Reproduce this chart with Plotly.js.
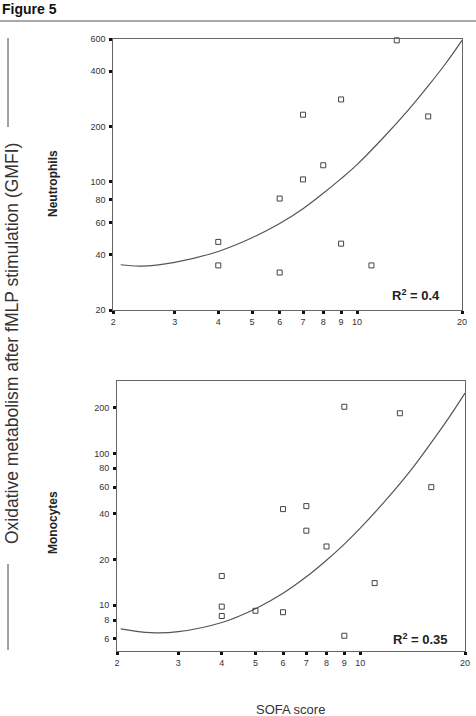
<!DOCTYPE html>
<html>
<head>
<meta charset="utf-8">
<script src="https://cdn.plot.ly/plotly-3.0.1.min.js"></script>
<style>html,body{margin:0;padding:0;background:#fff;}#chart{width:476px;height:716px;}</style>
</head>
<body>
<div id="chart"></div>
<script>
// Neutrophils panel
var neutroSofa = [4, 4, 6, 6, 7, 7, 8, 9, 9, 11, 13, 16];
var neutroGMFI = [47, 35, 81, 32, 232, 103, 123, 281, 46, 35, 590, 227];
var neutroFitSofa = [2.1, 2.4, 3, 4, 5, 6, 7, 8, 9, 10, 12, 14, 16, 18, 20];
var neutroFitGMFI = [35.3, 34.7, 36.4, 41.7, 49.5, 59.2, 71.3, 86.5, 104, 124, 177, 245, 333, 444, 590];

// Monocytes panel
var monoSofa = [4, 4, 4, 5, 6, 6, 7, 7, 8, 9, 9, 11, 13, 16];
var monoGMFI = [15.6, 9.8, 8.5, 9.2, 43, 9.0, 45, 31, 24.4, 203, 6.3, 14, 184, 60];
var monoFitSofa = [2.05, 2.5, 3, 4, 5, 6, 7, 8, 9, 10, 12, 14, 16, 18, 20];
var monoFitGMFI = [7.0, 6.6, 6.7, 7.7, 9.5, 12.0, 15.4, 19.8, 25.3, 32.2, 51, 78, 118, 173, 250];

// Tick labels
var xTicks = [2, 3, 4, 5, 6, 7, 8, 9, 10, 20];
var neutroYTicks = [20, 40, 60, 80, 100, 200, 400, 600];
var monoYTicks = [6, 8, 10, 20, 40, 60, 80, 100, 200];

var markerStyle = {symbol: 'square-open', size: 5, color: '#444', line: {width: 1, color: '#444'}};
var lineStyle = {color: '#555', width: 1.2, shape: 'spline', smoothing: 1};

var traces = [
  {x: neutroFitSofa, y: neutroFitGMFI, mode: 'lines', line: lineStyle, xaxis: 'x', yaxis: 'y', hoverinfo: 'skip'},
  {x: neutroSofa, y: neutroGMFI, mode: 'markers', marker: markerStyle, xaxis: 'x', yaxis: 'y', cliponaxis: false},
  {x: monoFitSofa, y: monoFitGMFI, mode: 'lines', line: lineStyle, xaxis: 'x2', yaxis: 'y2', hoverinfo: 'skip'},
  {x: monoSofa, y: monoGMFI, mode: 'markers', marker: markerStyle, xaxis: 'x2', yaxis: 'y2', cliponaxis: false}
];

var tickFont = {family: 'Liberation Sans, Arial, sans-serif', size: 9, color: '#333'};
function axisBase(extra) {
  var a = {
    type: 'log', showgrid: false, zeroline: false,
    showline: true, linecolor: '#666', linewidth: 1, mirror: true,
    ticks: 'outside', ticklen: 3, tickwidth: 3, tickcolor: '#111',
    tickfont: tickFont, tickmode: 'array', fixedrange: true
  };
  for (var k in extra) a[k] = extra[k];
  return a;
}

var W = 476, H = 716;
function px(x) { return x / W; }
function py(y) { return 1 - y / H; }

var layout = {
  width: W, height: H,
  margin: {l: 0, r: 0, t: 0, b: 0},
  paper_bgcolor: '#fff', plot_bgcolor: '#fff',
  showlegend: false,
  font: {family: 'Liberation Sans, Arial, sans-serif', color: '#222'},
  xaxis: axisBase({domain: [px(113.3), px(462)], anchor: 'y',
    range: [Math.log10(2), Math.log10(20)], tickvals: xTicks, ticktext: xTicks.map(String)}),
  yaxis: axisBase({domain: [py(310), py(39)], anchor: 'x',
    range: [Math.log10(20), Math.log10(600)], tickvals: neutroYTicks, ticktext: neutroYTicks.map(String), ticklabelstandoff: 2}),
  xaxis2: axisBase({domain: [px(117), px(465)], anchor: 'y2',
    range: [Math.log10(2), Math.log10(20)], tickvals: xTicks, ticktext: xTicks.map(String)}),
  yaxis2: axisBase({domain: [py(651), py(381)], anchor: 'x2',
    range: [Math.log10(5), Math.log10(300)], tickvals: monoYTicks, ticktext: monoYTicks.map(String), ticklabelstandoff: 2}),
  annotations: [
    {text: '<b>Figure 5</b>', xref: 'paper', yref: 'paper', x: 0, y: py(9), xanchor: 'left', yanchor: 'middle',
      showarrow: false, font: {size: 14, color: '#111'}},
    {text: 'Oxidative metabolism after fMLP stimulation (GMFI)', xref: 'paper', yref: 'paper',
      x: px(12), y: py(344), xanchor: 'center', yanchor: 'middle', textangle: -90,
      showarrow: false, font: {size: 17.5, color: '#333'}},
    {text: '<b>Neutrophils</b>', xref: 'paper', yref: 'paper', x: px(53), y: py(184),
      xanchor: 'center', yanchor: 'middle', textangle: -90, showarrow: false, font: {size: 12, color: '#222'}},
    {text: '<b>Monocytes</b>', xref: 'paper', yref: 'paper', x: px(53), y: py(523),
      xanchor: 'center', yanchor: 'middle', textangle: -90, showarrow: false, font: {size: 12, color: '#222'}},
    {text: 'SOFA score', xref: 'paper', yref: 'paper', x: px(290), y: py(709),
      xanchor: 'center', yanchor: 'middle', showarrow: false, font: {size: 13, color: '#333'}},
    {text: '<b>R<sup>2</sup> = 0.4</b>', xref: 'paper', yref: 'paper', x: px(416), y: py(295),
      xanchor: 'center', yanchor: 'middle', showarrow: false, font: {size: 13, color: '#222'}},
    {text: '<b>R<sup>2</sup> = 0.35</b>', xref: 'paper', yref: 'paper', x: px(420), y: py(639),
      xanchor: 'center', yanchor: 'middle', showarrow: false, font: {size: 13, color: '#222'}}
  ],
  shapes: [
    {type: 'line', xref: 'paper', yref: 'paper', x0: 0, x1: px(476), y0: py(21), y1: py(21), line: {color: '#555', width: 1}},
    {type: 'line', xref: 'paper', yref: 'paper', x0: px(8), x1: px(8), y0: py(38), y1: py(127), line: {color: '#444', width: 1}},
    {type: 'line', xref: 'paper', yref: 'paper', x0: px(8), x1: px(8), y0: py(564), y1: py(650), line: {color: '#444', width: 1}}
  ]
};

Plotly.newPlot('chart', traces, layout, {displayModeBar: false, staticPlot: true});
</script>
</body>
</html>
